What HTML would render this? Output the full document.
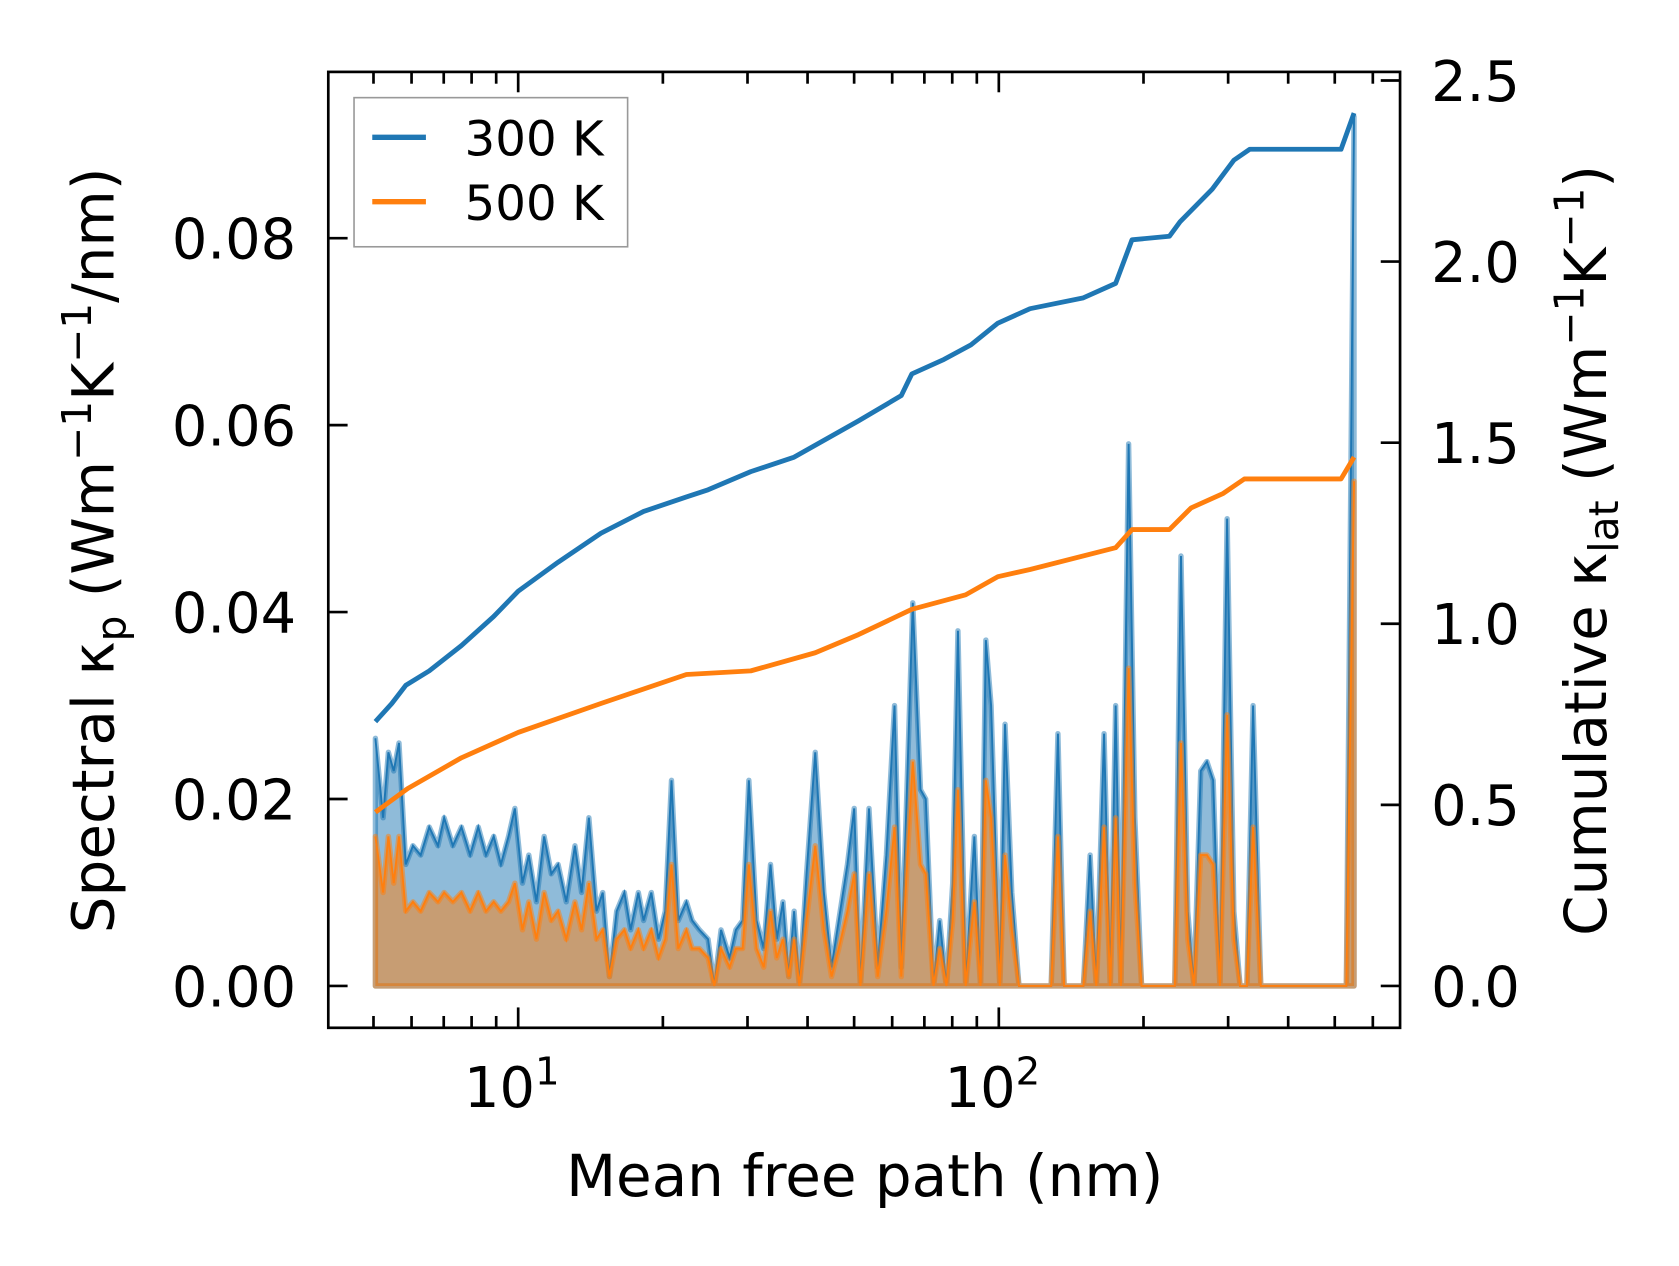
<!DOCTYPE html>
<html><head><meta charset="utf-8"><style>
html,body{margin:0;padding:0;background:#fff}
svg{display:block;font-family:"DejaVu Sans","Liberation Sans",sans-serif}
</style></head><body>
<svg id="chart" width="1679" height="1266" viewBox="0 0 1565 1180" xmlns="http://www.w3.org/2000/svg">
<rect x="0" y="0" width="1565" height="1180" fill="#fff"/>
<g id="plot"></g>
<g id="axes"></g>
</svg>
<script>
// spectral data: log10 of mean free path (nm)
const specLogMfp=[0.703,0.719,0.730,0.741,0.752,0.766,0.781,0.797,0.815,0.833,0.846,0.864,0.882,0.900,0.917,0.933,0.949,0.964,0.980,0.993,1.009,1.022,1.038,1.054,1.069,1.083,1.100,1.118,1.132,1.147,1.163,1.176,1.190,1.205,1.221,1.234,1.250,1.261,1.277,1.292,1.306,1.319,1.333,1.350,1.362,1.377,1.395,1.408,1.422,1.440,1.453,1.467,1.480,1.496,1.511,1.525,1.538,1.551,1.563,1.574,1.585,1.600,1.618,1.636,1.652,1.667,1.685,1.699,1.712,1.730,1.748,1.766,1.783,1.797,1.810,1.821,1.837,1.848,1.864,1.877,1.891,1.904,1.915,1.931,1.949,1.962,1.973,1.984,2.002,2.013,2.027,2.042,2.109,2.123,2.136,2.176,2.190,2.203,2.219,2.232,2.243,2.254,2.270,2.283,2.297,2.366,2.379,2.393,2.406,2.420,2.433,2.446,2.460,2.475,2.489,2.502,2.516,2.529,2.545,2.723,2.739];
const spec300=[0.0265,0.018,0.025,0.023,0.026,0.013,0.015,0.014,0.017,0.015,0.018,0.015,0.017,0.014,0.017,0.014,0.016,0.013,0.016,0.019,0.011,0.014,0.009,0.016,0.012,0.013,0.009,0.015,0.010,0.018,0.008,0.010,0.001,0.008,0.010,0.006,0.010,0.007,0.010,0.005,0.008,0.022,0.007,0.009,0.007,0.006,0.005,0.000,0.006,0.003,0.006,0.007,0.022,0.007,0.004,0.013,0.005,0.009,0.001,0.008,0.000,0.012,0.025,0.010,0.002,0.007,0.013,0.019,0.000,0.019,0.002,0.014,0.030,0.002,0.023,0.041,0.021,0.020,0.000,0.007,0.000,0.011,0.038,0.000,0.016,0.000,0.037,0.030,0.000,0.028,0.010,0.000,0.000,0.027,0.000,0.000,0.014,0.000,0.027,0.000,0.030,0.000,0.058,0.018,0.000,0.000,0.046,0.008,0.000,0.023,0.024,0.022,0.000,0.050,0.008,0.000,0.000,0.030,0.000,0.000,0.093];
const spec500=[0.016,0.010,0.016,0.011,0.016,0.008,0.009,0.008,0.010,0.009,0.010,0.009,0.010,0.008,0.010,0.008,0.009,0.008,0.009,0.011,0.006,0.009,0.005,0.010,0.007,0.008,0.005,0.009,0.006,0.011,0.005,0.006,0.001,0.005,0.006,0.004,0.006,0.004,0.006,0.003,0.005,0.013,0.004,0.006,0.004,0.004,0.003,0.000,0.004,0.002,0.004,0.004,0.013,0.004,0.002,0.008,0.003,0.005,0.001,0.005,0.000,0.007,0.015,0.006,0.001,0.004,0.008,0.012,0.000,0.012,0.001,0.008,0.017,0.001,0.014,0.024,0.013,0.012,0.000,0.004,0.000,0.007,0.021,0.000,0.009,0.000,0.022,0.018,0.000,0.014,0.006,0.000,0.000,0.016,0.000,0.000,0.008,0.000,0.017,0.000,0.018,0.000,0.034,0.011,0.000,0.000,0.026,0.005,0.000,0.014,0.014,0.013,0.000,0.029,0.005,0.000,0.000,0.017,0.000,0.000,0.054];
// cumulative data
const cum300LogMfp=[0.703,0.737,0.766,0.815,0.882,0.949,1.0,1.083,1.172,1.261,1.350,1.395,1.484,1.574,1.641,1.708,1.797,1.819,1.886,1.942,1.998,2.065,2.176,2.243,2.277,2.355,2.377,2.444,2.489,2.522,2.712,2.739];
const cum300=[0.73,0.78,0.83,0.87,0.94,1.02,1.09,1.17,1.25,1.31,1.35,1.37,1.42,1.46,1.51,1.56,1.63,1.69,1.73,1.77,1.83,1.87,1.90,1.94,2.06,2.07,2.11,2.20,2.28,2.31,2.31,2.41];
const cum500LogMfp=[0.703,0.770,0.882,1.0,1.172,1.350,1.484,1.618,1.708,1.819,1.931,1.998,2.065,2.243,2.277,2.355,2.400,2.467,2.511,2.712,2.739];
const cum500=[0.48,0.545,0.63,0.70,0.78,0.86,0.87,0.92,0.97,1.04,1.08,1.13,1.15,1.21,1.26,1.26,1.32,1.36,1.40,1.40,1.46];
const leftTicks=[0,0.02,0.04,0.06,0.08];
const leftTickLabels=["0.00","0.02","0.04","0.06","0.08"];
const rightTicks=[0,0.5,1.0,1.5,2.0,2.5];
const rightTickLabels=["0.0","0.5","1.0","1.5","2.0","2.5"];
const xMajorExp=[1,2];

const NS="http://www.w3.org/2000/svg";
const L=306,R=1305,T=67,B=958;
const X=lg=>483+(lg-1)*448;
const YL=v=>919-v/0.02*174.25;
const YR=v=>919-v/0.5*168.8;
const plot=document.getElementById('plot'), axes=document.getElementById('axes');
function mk(tag,attrs,parent){const e=document.createElementNS(NS,tag);for(const k in attrs)e.setAttribute(k,attrs[k]);parent.appendChild(e);return e;}

const defs=mk('defs',{},plot);
const cp=mk('clipPath',{id:'clip'},defs);mk('rect',{x:L,y:T,width:R-L,height:B-T},cp);
const g=mk('g',{'clip-path':'url(#clip)'},plot);

function spectral(vals,color,fillA,name){
  let pts=specLogMfp.map((lg,i)=>X(lg).toFixed(1)+','+YL(vals[i]).toFixed(1));
  const poly=pts.join(' ')+' '+X(specLogMfp[specLogMfp.length-1]).toFixed(1)+','+YL(0)+' '+X(specLogMfp[0]).toFixed(1)+','+YL(0);
  const f=mk('polygon',{points:poly,fill:color,'fill-opacity':fillA,stroke:color,'stroke-opacity':0.5,'stroke-width':5,'stroke-linejoin':'round'},g);
  
  
  const l=mk('polyline',{points:pts.join(' '),fill:'none',stroke:color,'stroke-width':1.8},g);
  
  
}
spectral(spec300,'#1f77b4',0.5,'spectral-300k');
spectral(spec500,'#ff7f0e',0.5,'spectral-500k');

function cum(lgs,vals,color,name){
  const pts=lgs.map((lg,i)=>X(lg).toFixed(1)+','+YR(vals[i]).toFixed(1)).join(' ');
  const l=mk('polyline',{points:pts,fill:'none',stroke:color,'stroke-width':4.5,'stroke-linejoin':'round'},g);
  
  
}
cum(cum300LogMfp,cum300,'#1f77b4','cumulative-300k');
cum(cum500LogMfp,cum500,'#ff7f0e','cumulative-500k');

const fr=mk('rect',{x:L,y:T,width:R-L,height:B-T,fill:'none',stroke:'#000','stroke-width':2.5},axes);


const FS=52;
function txt(s,x,y,anchor,parent,name){const t=mk('text',{x:x,y:y,'text-anchor':anchor,'font-size':FS,fill:'#000'},parent);t.textContent=s;
  
  return t;}
leftTicks.forEach((v,i)=>{const y=YL(v);mk('line',{x1:L,x2:L+18,y1:y,y2:y,stroke:'#000','stroke-width':2.5},axes);
  txt(leftTickLabels[i],276,y+19,'end',axes,'left-tick-label');});
rightTicks.forEach((v,i)=>{const y=YR(v);mk('line',{x1:R-18,x2:R,y1:y,y2:y,stroke:'#000','stroke-width':2.5},axes);
  txt(rightTickLabels[i],1334,y+19,'start',axes,'right-tick-label');});
for(let d=0;d<=2;d++){for(let m=1;m<10;m++){const lg=d+Math.log10(m);const x=X(lg);if(x<L||x>R)continue;
  const len=m===1?19:11;
  mk('line',{x1:x,x2:x,y1:B,y2:B-len,stroke:'#000','stroke-width':2.5},axes);
  mk('line',{x1:x,x2:x,y1:T,y2:T+len,stroke:'#000','stroke-width':2.5},axes);}}
xMajorExp.forEach(e=>{const x=X(e);const t=mk('text',{x:x-6,y:1032,'text-anchor':'middle','font-size':FS},axes);
  
  
  t.textContent='10';const s=mk('tspan',{dy:-21,'font-size':36},t);s.textContent=String(e);});
</script>
<svg style="position:absolute;left:0;top:0" width="1679" height="1266" viewBox="0 0 1565 1180" xmlns="http://www.w3.org/2000/svg" font-family="DejaVu Sans, Liberation Sans, sans-serif">
<text x="806" y="1115" text-anchor="middle" font-size="54">Mean free path (nm)</text>
<text transform="translate(106,513) rotate(-90)" text-anchor="middle" font-size="54">Spectral κ<tspan font-size="38" dy="11">p</tspan><tspan dy="-11"> (Wm</tspan><tspan font-size="38" dy="-21">−1</tspan><tspan dy="21">K</tspan><tspan font-size="38" dy="-21">−1</tspan><tspan dy="21">/nm)</tspan></text>
<text transform="translate(1497,513) rotate(-90)" text-anchor="middle" font-size="54">Cumulative κ<tspan font-size="38" dy="11">lat</tspan><tspan dy="-11"> (Wm</tspan><tspan font-size="38" dy="-21">−1</tspan><tspan dy="21">K</tspan><tspan font-size="38" dy="-21">−1</tspan><tspan dy="21">)</tspan></text>
<g>
<rect x="330" y="91" width="255" height="139" fill="#fff" fill-opacity="0.8" stroke="#999" stroke-width="1.5"/>
<line x1="347" y1="128" x2="397" y2="128" stroke="#1f77b4" stroke-width="5"/>
<text x="433" y="145" font-size="45">300 K</text>
<line x1="347" y1="188" x2="397" y2="188" stroke="#ff7f0e" stroke-width="5"/>
<text x="433" y="205" font-size="45">500 K</text>
</g>
</svg>
</body></html>
